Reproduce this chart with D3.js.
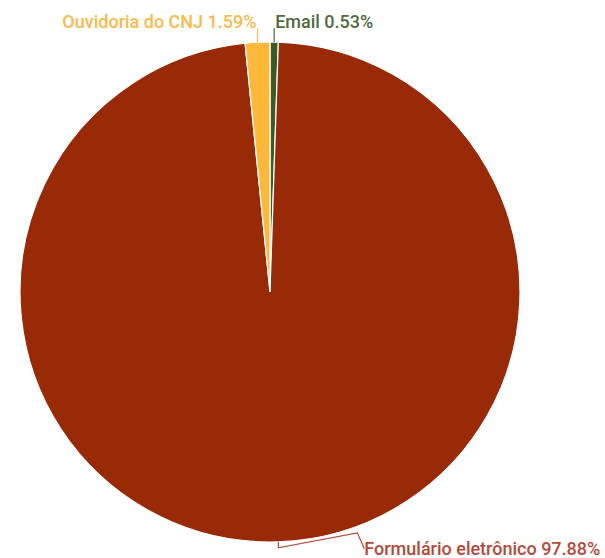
<!DOCTYPE html>
<html>
<head>
<meta charset="utf-8">
<script src="https://cdn.jsdelivr.net/npm/d3@7"></script>
<style>
  body { margin: 0; background: #fff; }
  text { font-family: Roboto, "Noto Sans", sans-serif; font-weight: 500; }
</style>
</head>
<body>
<svg id="chart"></svg>
<script>
// slice order, clockwise from 12 o'clock
var categories = ['Email', 'Formulário eletrônico', 'Ouvidoria do CNJ'];
var values = [0.53, 97.88, 1.59];
var sliceColors = ['#3b5a26', '#992a08', '#fbb83a'];
var labelColors = ['#4d6b3c', '#b4493a', '#f9ba4b'];

var width = 605, height = 558;
var cx = 270, cy = 292, radius = 250;

var svg = d3.select('#chart').attr('width', width).attr('height', height);
var g = svg.append('g').attr('transform', 'translate(' + cx + ',' + cy + ')');

var data = categories.map(function(c, i) { return {name: c, value: values[i], i: i}; });

var pie = d3.pie().sort(null).value(function(d) { return d.value; });
var arc = d3.arc().innerRadius(0).outerRadius(radius);
var arcs = pie(data);

g.selectAll('path.slice')
  .data(arcs)
  .enter()
  .append('path')
    .attr('class', 'slice')
    .attr('d', arc)
    .attr('fill', function(d) { return sliceColors[d.data.i]; })
    .attr('stroke', '#fff')
    .attr('stroke-width', 1.2);

// point on the rim at the middle of a slice
function rim(d, r) {
  var a = (d.startAngle + d.endAngle) / 2;
  return [Math.sin(a) * r, -Math.cos(a) * r];
}

// leader lines and labels
arcs.forEach(function(d) {
  var p = rim(d, radius);
  var pts, tx, ty, anchor;
  if (d.data.name === 'Formulário eletrônico') {
    pts = [p, [p[0], p[1] + 6], [p[0] + 79, p[1] - 9], [p[0] + 86, p[1] + 7]];
    tx = p[0] + 86; ty = p[1] + 13; anchor = 'start';
  } else if (d.data.name === 'Email') {
    pts = [p, [p[0], p[1] - 14]];
    tx = p[0] + 1; ty = p[1] - 14; anchor = 'start';
  } else {
    pts = [p, [p[0], p[1] - 14]];
    tx = p[0] - 1; ty = p[1] - 14; anchor = 'end';
  }
  g.append('polyline')
    .attr('points', pts.map(function(q) { return q.join(','); }).join(' '))
    .attr('fill', 'none')
    .attr('stroke', labelColors[d.data.i])
    .attr('stroke-width', 1.2);
  g.append('text')
    .attr('x', tx)
    .attr('y', ty)
    .attr('text-anchor', anchor)
    .attr('fill', labelColors[d.data.i])
    .style('font-size', '18px')
    .text(d.data.name + ' ' + d3.format('.2f')(d.data.value) + '%');
});
</script>
</body>
</html>
